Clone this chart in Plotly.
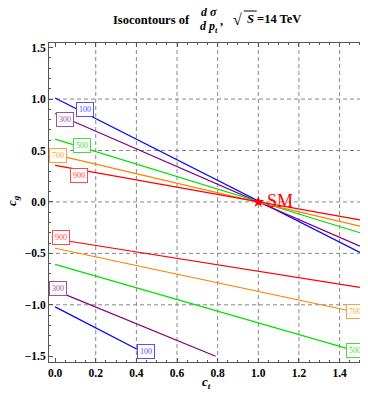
import plotly.graph_objects as go

# ---------------- data ----------------
labels = ["100", "300", "500", "700", "900"]
colors = ["#0000ff", "#800080", "#00e000", "#ff8000", "#ff0000"]
label_colors = ["#5050ff", "#a050a8", "#40e040", "#ffa040", "#ff4848"]

# upper branch (through the SM point): cg at ct=0 and at ct=1.5
upper_ct_start = [0.0, 0.0, 0.0, 0.0, 0.0]
upper_cg_start = [1.01, 0.86, 0.61, 0.46, 0.355]
upper_ct_end = [1.5, 1.5, 1.5, 1.5, 1.5]
upper_cg_end = [-0.49, -0.43, -0.30, -0.235, -0.175]

# lower branch: start at ct=0, end where it leaves the region
lower_ct_start = [0.0, 0.0, 0.0, 0.0, 0.0]
lower_cg_start = [-1.02, -0.86, -0.607, -0.45, -0.36]
lower_ct_end = [0.47, 0.79, 1.5, 1.5, 1.5]
lower_cg_end = [-1.5, -1.5, -1.46, -1.08, -0.83]

sm_ct = [1.0]
sm_cg = [0.0]

x_ticks = [0.0, 0.2, 0.4, 0.6, 0.8, 1.0, 1.2, 1.4]
y_ticks = [-1.5, -1.0, -0.5, 0.0, 0.5, 1.0, 1.5]

# ---------------- layout helpers ----------------
OFF = 8  # the page body has an 8px margin
W, H = 368 - OFF, 393 - OFF
ML, MR, MT, MB = 41, 1.5, 35, 31
PW, PH = W - ML - MR, H - MT - MB
SERIF = "Liberation Serif"


def px(x):  # page pixel -> paper
    return (x - OFF - ML) / PW


def py(y):
    return 1 - (y - OFF - MT) / PH


fig = go.Figure()

for i in range(len(labels)):
    fig.add_trace(go.Scatter(
        x=[upper_ct_start[i], upper_ct_end[i]],
        y=[upper_cg_start[i], upper_cg_end[i]],
        mode="lines", line=dict(color=colors[i], width=1.2),
        showlegend=False, hoverinfo="skip"))
    fig.add_trace(go.Scatter(
        x=[lower_ct_start[i], lower_ct_end[i]],
        y=[lower_cg_start[i], lower_cg_end[i]],
        mode="lines", line=dict(color=colors[i], width=1.2),
        showlegend=False, hoverinfo="skip"))

fig.add_trace(go.Scatter(
    x=sm_ct, y=sm_cg, mode="markers",
    marker=dict(symbol="star", size=9, color="#ff0000", line=dict(width=0)),
    showlegend=False, hoverinfo="skip"))

# contour labels (positions are layout)
label_pos = [
    (0, 0.145, 0.898), (1, 0.047, 0.80), (2, 0.133, 0.545), (3, 0.016, 0.45), (4, 0.117, 0.253),
    (4, 0.029, -0.35), (1, 0.013, -0.843), (0, 0.445, -1.45), (2, 1.478, -1.444), (3, 1.478, -1.064),
]
annotations = []
for idx, xc, yc in label_pos:
    c = label_colors[idx]
    annotations.append(dict(
        x=xc, y=yc, xref="x", yref="y", text=labels[idx], showarrow=False,
        font=dict(family=SERIF, size=8, color=c), bgcolor="white",
        bordercolor=c, borderwidth=1, borderpad=2))

annotations.append(dict(
    x=1.035, y=0.01, xref="x", yref="y", text="SM", showarrow=False,
    xanchor="left", yanchor="middle",
    font=dict(family=SERIF, size=18, color="#ff0000")))

# title pieces
bold = dict(family=SERIF, size=12.5, color="black", weight="bold")
annotations += [
    dict(x=px(152), y=py(20), xref="paper", yref="paper", text="Isocontours of",
         showarrow=False, font=bold, xanchor="center", yanchor="middle"),
    dict(x=px(209), y=py(12), xref="paper", yref="paper", text="<i>d σ</i>",
         showarrow=False, font=dict(family=SERIF, size=12, color="black", weight="bold"),
         xanchor="center", yanchor="middle"),
    dict(x=px(209), y=py(26.5), xref="paper", yref="paper", text="<i>d p<sub>t</sub></i>",
         showarrow=False, font=dict(family=SERIF, size=12, color="black", weight="bold"),
         xanchor="center", yanchor="middle"),
    dict(x=px(222), y=py(21), xref="paper", yref="paper", text=",",
         showarrow=False, font=bold, xanchor="center", yanchor="middle"),
    dict(x=px(231), y=py(19), xref="paper", yref="paper", text="√",
         showarrow=False, font=dict(family=SERIF, size=16, color="black", weight="bold"),
         xanchor="left", yanchor="middle"),
    dict(x=px(245), y=py(19), xref="paper", yref="paper",
         text="<i>S</i> =14 TeV",
         showarrow=False, font=bold, xanchor="left", yanchor="middle"),
    # axis titles
    dict(x=px(207), y=py(382), xref="paper", yref="paper", text="<i>c<sub>t</sub></i>",
         showarrow=False, font=dict(family=SERIF, size=13, color="black", weight="bold"),
         xanchor="center", yanchor="middle"),
    dict(x=px(13), y=py(201), xref="paper", yref="paper", text="<i>c<sub>g</sub></i>",
         showarrow=False, textangle=-90,
         font=dict(family=SERIF, size=13, color="black", weight="bold"),
         xanchor="center", yanchor="middle"),
]

# overline of the square root
shapes = [dict(type="line", xref="paper", yref="paper",
               x0=px(244), x1=px(257), y0=py(11), y1=py(11),
               line=dict(color="black", width=1))]

# dashed grid lines (interior only)
for xv in x_ticks[1:]:
    shapes.append(dict(type="line", xref="x", yref="paper", x0=xv, x1=xv, y0=0, y1=1,
                       line=dict(color="#888888", width=1, dash="4px,3px"), layer="below"))
for yv in y_ticks[1:-1]:
    shapes.append(dict(type="line", xref="paper", yref="y", x0=0, x1=1, y0=yv, y1=yv,
                       line=dict(color="#888888", width=1, dash="4px,3px"), layer="below"))

tickfont = dict(family=SERIF, size=11.5, color="black", weight="bold")
axis_common = dict(
    showgrid=False, zeroline=False, showline=True, linecolor="#555555", linewidth=1,
    mirror="allticks", ticks="inside", ticklen=4, tickcolor="#555555", tickwidth=1,
    tickfont=tickfont, tickformat=".1f", automargin=False,
)

fig.update_layout(
    width=W, height=H, margin=dict(l=ML, r=MR, t=MT, b=MB, autoexpand=False),
    paper_bgcolor="white", plot_bgcolor="white",
    xaxis=dict(range=[-0.03, 1.53], tickvals=x_ticks,
               minor=dict(dtick=0.05, tick0=0, ticks="inside", ticklen=2, tickcolor="#555555"),
               **axis_common),
    yaxis=dict(range=[-1.556, 1.545], tickvals=y_ticks,
               minor=dict(dtick=0.1, tick0=0, ticks="inside", ticklen=2, tickcolor="#555555"),
               **axis_common),
    annotations=annotations, shapes=shapes, showlegend=False,
)

fig.write_html("out.html")
